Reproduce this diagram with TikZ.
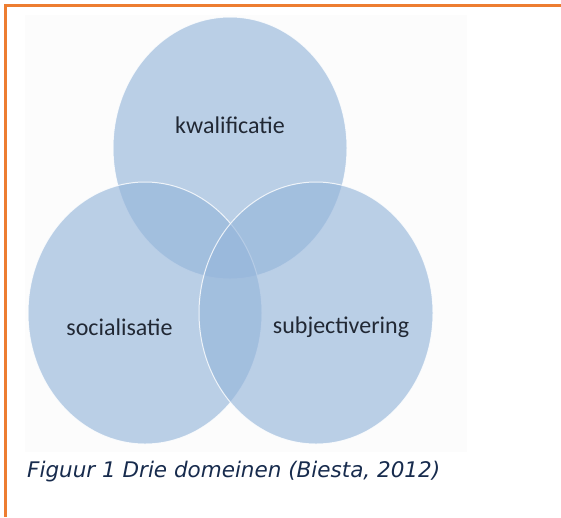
\documentclass[tikz,border=0pt]{standalone}
\usepackage{fontspec}
\setmainfont{Carlito}
\newfontfamily\capfont{DejaVu Sans}
\usetikzlibrary{shapes.geometric}
\definecolor{vennblue}{RGB}{150,182,219}
\definecolor{framecol}{RGB}{237,125,49}
\definecolor{labelcol}{RGB}{33,40,52}
\definecolor{captioncol}{RGB}{23,43,77}
\definecolor{backcol}{RGB}{252,252,252}
\begin{document}
\begin{tikzpicture}[x=1pt,y=-1pt,
  venn/.style={ellipse, minimum width=234pt, minimum height=262pt, inner sep=0pt,
    fill=vennblue, fill opacity=0.64, draw=white, draw opacity=0.8, line width=1pt},
  lbl/.style={text=labelcol, font=\fontsize{24}{28}\selectfont, inner sep=0pt},
  captionstyle/.style={text=captioncol, font=\capfont\itshape\fontsize{21.5}{25}\selectfont, inner sep=0pt, anchor=base west},
  frameline/.style={draw=framecol, line width=2.6pt}]
\useasboundingbox (0,0) rectangle (561,517);
\fill[backcol] (25,15) rectangle (467,452);
\node[venn] (kw) at (230,148) {};
\node[venn] (so) at (145,313) {};
\node[venn] (su) at (316,313) {};
\node[lbl] (kwl) at (230,125) {kwalificatie};
\node[lbl] (sol) at (119.5,327) {socialisatie};
\node[lbl] (sul) at (341,327) {subjectivering};
\node[captionstyle] (capt) at (27,477) {Figuur 1 Drie domeinen (Biesta, 2012)};
\coordinate (c0) at (5.5,517);
\coordinate (c1) at (5.5,5.2);
\coordinate (c2) at (561,5.2);
\draw[frameline] (c0) -- (c1) -- (c2);
\end{tikzpicture}
\end{document}
